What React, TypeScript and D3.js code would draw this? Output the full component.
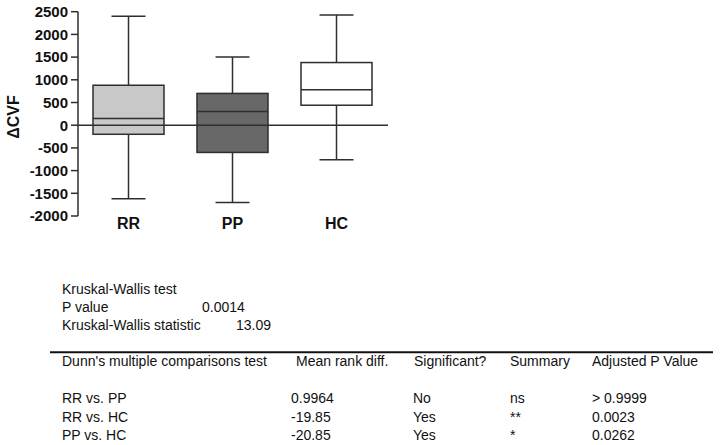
import React from "react";
import * as d3 from "d3";

const categories = ["RR", "PP", "HC"];
const whiskerLow = [-1620, -1700, -760];
const q1 = [-200, -600, 440];
const median = [150, 300, 780];
const q3 = [880, 700, 1380];
const whiskerHigh = [2400, 1500, 2430];
const fills = ["#c8c8c8", "#686868", "#ffffff"];
const yTicks = [2500, 2000, 1500, 1000, 500, 0, -500, -1000, -1500, -2000];

const kwLabels = ["Kruskal-Wallis test", "P value", "Kruskal-Wallis statistic"];
const kwValues = ["", "0.0014", "13.09"];

const tableHeaders = ["Dunn's multiple comparisons test", "Mean rank diff.", "Significant?", "Summary", "Adjusted P Value"];
const comparisons = ["RR vs. PP", "RR vs. HC", "PP vs. HC"];
const meanRankDiff = ["0.9964", "-19.85", "-20.85"];
const significant = ["No", "Yes", "Yes"];
const summary = ["ns", "**", "*"];
const adjustedP = ["> 0.9999", "0.0023", "0.0262"];

const FONT = "'Liberation Sans', Arial, Helvetica, sans-serif";
const INK = "#2e2e2e";

export default function App() {
  const axisX = 78;
  const y = d3.scaleLinear().domain([-2000, 2500]).range([216, 11.7]);
  const x = d3.scalePoint<string>().domain(categories).range([128.5, 336.5]);
  const boxW = 71;
  const capHalf = 17;

  const headerX = [62, 296, 414, 510, 592];
  const rowCols = [62, 291, 413, 510, 592];
  const rowY = [398.3, 416.7, 435];

  return (
    <div style={{ position: "fixed", left: 0, top: 0, width: 720, height: 445, overflow: "hidden" }}>
      <svg width={720} height={445} style={{ display: "block", background: "#fff" }} fontFamily={FONT}>
        {/* y axis */}
        <line x1={axisX} x2={axisX} y1={y(2500)} y2={y(-2000)} stroke={INK} strokeWidth={1.5} />
        {yTicks.map((t) => (
          <g key={t}>
            <line x1={axisX - 7} x2={axisX} y1={y(t)} y2={y(t)} stroke={INK} strokeWidth={1.5} />
            <text x={68} y={y(t) + 5.3} textAnchor="end" fontSize={15} fontWeight="bold" fill="#111">
              {t}
            </text>
          </g>
        ))}
        <text
          transform={`translate(19, 117) rotate(-90)`}
          textAnchor="middle"
          fontSize={16}
          fontWeight="bold"
          fill="#111"
        >
          ΔCVF
        </text>

        {/* boxes */}
        {categories.map((c, i) => {
          const cx = x(c)!;
          return (
            <g key={c}>
              <line x1={cx} x2={cx} y1={y(whiskerHigh[i])} y2={y(q3[i])} stroke={INK} strokeWidth={1.5} />
              <line x1={cx} x2={cx} y1={y(q1[i])} y2={y(whiskerLow[i])} stroke={INK} strokeWidth={1.5} />
              <line x1={cx - capHalf} x2={cx + capHalf} y1={y(whiskerHigh[i])} y2={y(whiskerHigh[i])} stroke={INK} strokeWidth={1.5} />
              <line x1={cx - capHalf} x2={cx + capHalf} y1={y(whiskerLow[i])} y2={y(whiskerLow[i])} stroke={INK} strokeWidth={1.5} />
              <rect
                x={cx - boxW / 2}
                y={y(q3[i])}
                width={boxW}
                height={y(q1[i]) - y(q3[i])}
                fill={fills[i]}
                stroke={INK}
                strokeWidth={1.5}
              />
              <line x1={cx - boxW / 2} x2={cx + boxW / 2} y1={y(median[i])} y2={y(median[i])} stroke={INK} strokeWidth={1.5} />
              <text x={cx} y={229} textAnchor="middle" fontSize={16} fontWeight="bold" fill="#111">
                {c}
              </text>
            </g>
          );
        })}
        {/* zero line */}
        <line x1={axisX} x2={388} y1={y(0)} y2={y(0)} stroke={INK} strokeWidth={1.5} />

        {/* Kruskal-Wallis */}
        {kwLabels.map((l, i) => (
          <g key={l}>
            <text x={62} y={289 + i * 18 + 5} fontSize={14} fill="#111">
              {l}
            </text>
            {kwValues[i] && (
              <text x={i === 1 ? 202 : 236} y={289 + i * 18 + 5} fontSize={14} fill="#111">
                {kwValues[i]}
              </text>
            )}
          </g>
        ))}

        {/* Table */}
        <line x1={50} x2={713} y1={352.3} y2={352.3} stroke="#111" strokeWidth={2} />
        {tableHeaders.map((h, i) => (
          <text key={h} x={headerX[i]} y={360.7 + 5} fontSize={14} fill="#111">
            {h}
          </text>
        ))}
        {comparisons.map((c, r) => {
          const cells = [c, meanRankDiff[r], significant[r], summary[r], adjustedP[r]];
          return cells.map((v, j) => (
            <text key={`${r}-${j}`} x={rowCols[j]} y={rowY[r] + 5} fontSize={14} fill="#111">
              {v}
            </text>
          ));
        })}
      </svg>
    </div>
  );
}
